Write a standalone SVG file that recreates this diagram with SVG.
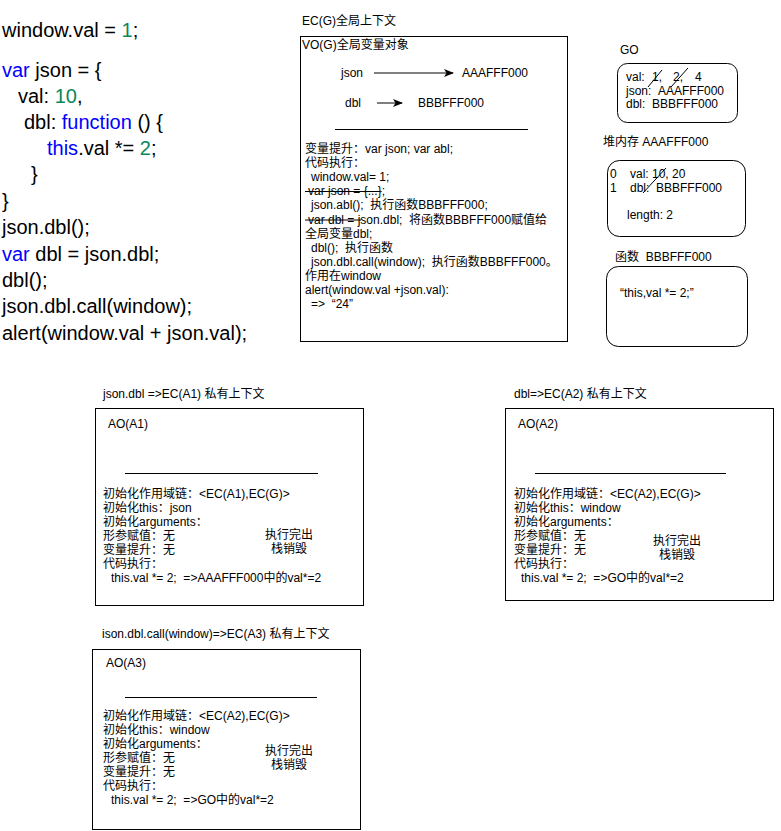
<svg xmlns="http://www.w3.org/2000/svg" width="781" height="831" viewBox="0 0 781 831">
  <style>
    text { font-family: "Liberation Sans", Arial, "Noto Sans CJK SC", sans-serif; fill: #000; white-space: pre; }
    .code { font-size: 20px; }
    .kw { fill: #0000ff; }
    .num { fill: #09885a; }
    .t { font-size: 12px; }
    .box { fill: #fff; stroke: #000; stroke-width: 1; }
    .rbox { fill: #fff; stroke: #000; stroke-width: 1; }
    .rule { stroke: #000; stroke-width: 1; }
    .strike { stroke: #000; stroke-width: 1; }
    .edge { stroke: #000; stroke-width: 1; fill: none; }
  </style>
  <defs>
    <marker id="arrow" viewBox="0 0 10 10" refX="9" refY="5" markerWidth="10" markerHeight="10" markerUnits="userSpaceOnUse" orient="auto">
      <path d="M0,1 L10,5 L0,9 L2.5,5 Z" fill="#000"/>
    </marker>
  </defs>
  <rect width="781" height="831" fill="#fff"/>

  <!-- source code -->
  <g id="code" class="code">
    <text x="2" y="37" class="code">window.val = <tspan class="num">1</tspan>;</text>
    <text x="2" y="77" class="code"><tspan class="kw">var</tspan> json = {</text>
    <text x="18" y="103" class="code">val: <tspan class="num">10</tspan>,</text>
    <text x="24" y="129" class="code">dbl: <tspan class="kw">function</tspan> () {</text>
    <text x="47" y="155" class="code"><tspan class="kw">this</tspan>.val *= <tspan class="num">2</tspan>;</text>
    <text x="31" y="181" class="code">}</text>
    <text x="2" y="208" class="code">}</text>
    <text x="2" y="234" class="code">json.dbl();</text>
    <text x="2" y="261" class="code"><tspan class="kw">var</tspan> dbl = json.dbl;</text>
    <text x="2" y="287" class="code">dbl();</text>
    <text x="2" y="313" class="code">json.dbl.call(window);</text>
    <text x="2" y="340" class="code">alert(window.val + json.val);</text>
  </g>

  <!-- global execution context -->
  <g id="ec-g">
    <text x="302" y="25" class="t">EC(G)全局上下文</text>
    <rect x="300.5" y="36.5" width="267" height="305" class="box"/>
    <text x="302" y="49" class="t">VO(G)全局变量对象</text>
    <text x="341" y="77" class="t">json</text>
    <text x="462" y="77" class="t">AAAFFF000</text>
    <text x="345" y="107" class="t">dbl</text>
    <text x="418" y="107" class="t">BBBFFF000</text>
    <line x1="335" y1="129.5" x2="528" y2="129.5" class="rule"/>
    <text x="305" y="152.5" class="t">变量提升：var json; var abl;</text>
    <text x="305" y="166.5" class="t">代码执行：</text>
    <text x="311" y="181" class="t">window.val= 1;</text>
    <text x="308" y="195" class="t">var json = {...};</text>
    <line x1="305" y1="191.5" x2="380" y2="191.5" class="strike"/>
    <text x="311" y="209" class="t">json.abl(); &#160;执行函数BBBFFF000;</text>
    <text x="308" y="223.5" class="t">var dbl = json.dbl; &#160;将函数BBBFFF000赋值给</text>
    <line x1="305" y1="220" x2="361" y2="220" class="strike"/>
    <text x="305" y="237.5" class="t">全局变量dbl;</text>
    <text x="311" y="251.5" class="t">dbl(); &#160;执行函数</text>
    <text x="311" y="266" class="t">json.dbl.call(window); &#160;执行函数BBBFFF000。</text>
    <text x="305" y="280" class="t">作用在window</text>
    <text x="305" y="294" class="t">alert(window.val +json.val):</text>
    <text x="311" y="308" class="t">=&gt; &#160;“24”</text>
  </g>

  <!-- global object -->
  <g id="go">
    <text x="620" y="54" class="t">GO</text>
    <rect x="617.5" y="63.5" width="120" height="59" rx="10" class="rbox"/>
    <text x="626" y="81" class="t">val:</text>
    <text x="652" y="81" class="t">1,</text>
    <text x="673" y="81" class="t">2,</text>
    <text x="695" y="81" class="t">4</text>
    <line x1="648" y1="87" x2="662" y2="70" class="strike"/>
    <line x1="671" y1="87" x2="688" y2="68" class="strike"/>
    <text x="626" y="94.5" class="t">json:</text>
    <text x="658" y="94.5" class="t">AAAFFF000</text>
    <text x="626" y="108" class="t">dbl:</text>
    <text x="652" y="108" class="t">BBBFFF000</text>
  </g>

  <!-- heap object AAAFFF000 -->
  <g id="heap-aaafff000">
    <text x="603" y="146" class="t">堆内存 AAAFFF000</text>
    <rect x="607.5" y="160.5" width="138" height="76" rx="12" class="rbox"/>
    <text x="610" y="178" class="t">0</text>
    <text x="630" y="178" class="t">val: 10, 20</text>
    <line x1="643" y1="193" x2="666" y2="168" class="strike"/>
    <text x="610" y="191.5" class="t">1</text>
    <text x="630" y="191.5" class="t">dbl: &#160;BBBFFF000</text>
    <text x="627" y="219" class="t">length: 2</text>
  </g>

  <!-- function object BBBFFF000 -->
  <g id="func-bbbfff000">
    <text x="615" y="261" class="t">函数 &#160;BBBFFF000</text>
    <rect x="606.5" y="266.5" width="141" height="80" rx="12" class="rbox"/>
    <text x="620" y="297" class="t">“this,val *= 2;”</text>
  </g>

  <!-- EC(A1) -->
  <g id="ec-a1">
    <text x="103" y="398" class="t">json.dbl =&gt;EC(A1) 私有上下文</text>
    <rect x="95.5" y="408.5" width="268" height="197" class="box"/>
    <text x="108" y="428" class="t">AO(A1)</text>
    <line x1="125" y1="473.5" x2="318" y2="473.5" class="rule"/>
    <text x="103" y="498" class="t">初始化作用域链：&lt;EC(A1),EC(G)&gt;</text>
    <text x="103" y="512" class="t">初始化this：json</text>
    <text x="103" y="526" class="t">初始化arguments：</text>
    <text x="103" y="540" class="t">形参赋值：无</text>
    <text x="103" y="554" class="t">变量提升：无</text>
    <text x="103" y="568" class="t">代码执行：</text>
    <text x="111" y="582" class="t">this.val *= 2; &#160;=&gt;AAAFFF000中的val*=2</text>
    <text x="265" y="539" class="t">执行完出</text>
    <text x="271" y="553" class="t">栈销毁</text>
  </g>

  <!-- EC(A2) -->
  <g id="ec-a2">
    <text x="514" y="398" class="t">dbl=&gt;EC(A2) 私有上下文</text>
    <rect x="505.5" y="408.5" width="268" height="192" class="box"/>
    <text x="518" y="428" class="t">AO(A2)</text>
    <line x1="535" y1="473.5" x2="726" y2="473.5" class="rule"/>
    <text x="514" y="498" class="t">初始化作用域链：&lt;EC(A2),EC(G)&gt;</text>
    <text x="514" y="512" class="t">初始化this：window</text>
    <text x="514" y="526" class="t">初始化arguments：</text>
    <text x="514" y="540" class="t">形参赋值：无</text>
    <text x="514" y="554" class="t">变量提升：无</text>
    <text x="514" y="568" class="t">代码执行：</text>
    <text x="521" y="582" class="t">this.val *= 2; &#160;=&gt;GO中的val*=2</text>
    <text x="653" y="545" class="t">执行完出</text>
    <text x="659" y="559" class="t">栈销毁</text>
  </g>

  <!-- EC(A3) -->
  <g id="ec-a3">
    <text x="102" y="638" class="t">ison.dbl.call(window)=&gt;EC(A3) 私有上下文</text>
    <rect x="92.5" y="649.5" width="268" height="180" class="box"/>
    <text x="106" y="667" class="t">AO(A3)</text>
    <line x1="125" y1="697.5" x2="317" y2="697.5" class="rule"/>
    <text x="103" y="720" class="t">初始化作用域链：&lt;EC(A2),EC(G)&gt;</text>
    <text x="103" y="734" class="t">初始化this：window</text>
    <text x="103" y="748" class="t">初始化arguments：</text>
    <text x="103" y="762" class="t">形参赋值：无</text>
    <text x="103" y="776" class="t">变量提升：无</text>
    <text x="103" y="790" class="t">代码执行：</text>
    <text x="111" y="804" class="t">this.val *= 2; &#160;=&gt;GO中的val*=2</text>
    <text x="265" y="755" class="t">执行完出</text>
    <text x="271" y="769" class="t">栈销毁</text>
  </g>

  <!-- variable-to-address pointers -->
  <g id="connectors">
    <line x1="374" y1="73" x2="453" y2="73" class="edge" marker-end="url(#arrow)"/>
    <line x1="377" y1="103" x2="402" y2="103" class="edge" marker-end="url(#arrow)"/>
  </g>
</svg>
